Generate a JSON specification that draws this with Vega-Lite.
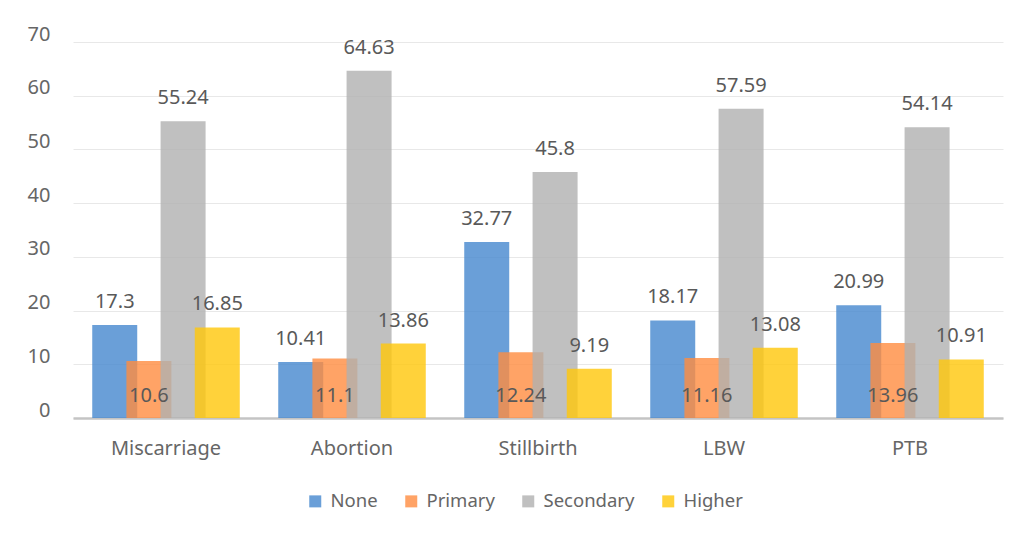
{
  "$schema": "https://vega.github.io/schema/vega-lite/v6.json",
  "autosize": "none",
  "width": 930,
  "height": 376,
  "padding": {"left": 73, "top": 42, "right": 19, "bottom": 116},
  "background": "white",
  "data": {
    "values": [
      {"outcome": "Miscarriage", "education": "None", "value": 17.3},
      {"outcome": "Miscarriage", "education": "Primary", "value": 10.6},
      {"outcome": "Miscarriage", "education": "Secondary", "value": 55.24},
      {"outcome": "Miscarriage", "education": "Higher", "value": 16.85},
      {"outcome": "Abortion", "education": "None", "value": 10.41},
      {"outcome": "Abortion", "education": "Primary", "value": 11.1},
      {"outcome": "Abortion", "education": "Secondary", "value": 64.63},
      {"outcome": "Abortion", "education": "Higher", "value": 13.86},
      {"outcome": "Stillbirth", "education": "None", "value": 32.77},
      {"outcome": "Stillbirth", "education": "Primary", "value": 12.24},
      {"outcome": "Stillbirth", "education": "Secondary", "value": 45.8},
      {"outcome": "Stillbirth", "education": "Higher", "value": 9.19},
      {"outcome": "LBW", "education": "None", "value": 18.17},
      {"outcome": "LBW", "education": "Primary", "value": 11.16},
      {"outcome": "LBW", "education": "Secondary", "value": 57.59},
      {"outcome": "LBW", "education": "Higher", "value": 13.08},
      {"outcome": "PTB", "education": "None", "value": 20.99},
      {"outcome": "PTB", "education": "Primary", "value": 13.96},
      {"outcome": "PTB", "education": "Secondary", "value": 54.14},
      {"outcome": "PTB", "education": "Higher", "value": 10.91}
    ]
  },
  "encoding": {
    "x": {
      "field": "outcome",
      "type": "nominal",
      "sort": ["Miscarriage", "Abortion", "Stillbirth", "LBW", "PTB"],
      "scale": {"paddingInner": 0.265, "paddingOuter": 0.1325},
      "axis": {
        "title": null,
        "labelAngle": 0,
        "ticks": false,
        "labelPadding": 20,
        "labelFont": "Noto Sans",
        "labelFontSize": 20,
        "labelColor": "#666666",
        "domainColor": "#c4c4c4",
        "domainWidth": 2.5,
        "grid": false
      }
    },
    "xOffset": {
      "field": "education",
      "type": "nominal",
      "sort": ["None", "Primary", "Secondary", "Higher"],
      "scale": {"paddingInner": 0, "paddingOuter": 0}
    }
  },
  "layer": [
    {
      "mark": {"type": "bar", "width": 45, "opacity": 0.8},
      "encoding": {
        "y": {
          "field": "value",
          "type": "quantitative",
          "scale": {"domain": [0, 70], "nice": false},
          "axis": {
            "title": null,
            "values": [0, 10, 20, 30, 40, 50, 60, 70],
            "domain": false,
            "ticks": false,
            "labelPadding": 23,
            "labelOffset": -8,
            "labelFont": "Noto Sans",
            "labelFontSize": 20,
            "labelColor": "#666666",
            "gridColor": "#e8e8e8",
            "gridWidth": 1
          }
        },
        "color": {
          "field": "education",
          "type": "nominal",
          "sort": ["None", "Primary", "Secondary", "Higher"],
          "scale": {
            "domain": ["None", "Primary", "Secondary", "Higher"],
            "range": ["#4587CE", "#FF8C40", "#B0B0B0", "#FFC709"]
          },
          "legend": {
            "title": null,
            "orient": "none",
            "direction": "horizontal",
            "legendX": 233,
            "legendY": 450,
            "symbolType": "square",
            "symbolSize": 144,
            "symbolOpacity": 0.8,
            "symbolStrokeWidth": 0,
            "labelFont": "Noto Sans",
            "labelFontSize": 18.5,
            "labelColor": "#666666",
            "labelOffset": 6,
            "columnPadding": 24
          }
        }
      }
    },
    {
      "transform": [{"filter": "datum.education !== 'Primary'"}],
      "mark": {"type": "text", "font": "Noto Sans", "fontSize": 20, "color": "#595959", "baseline": "alphabetic", "dy": -17},
      "encoding": {
        "y": {"field": "value", "type": "quantitative"},
        "text": {"field": "value", "type": "quantitative"}
      }
    },
    {
      "transform": [{"filter": "datum.education === 'Primary'"}],
      "mark": {"type": "text", "font": "Noto Sans", "fontSize": 20, "color": "#595959", "baseline": "alphabetic", "dy": -16},
      "encoding": {
        "y": {"datum": 0, "type": "quantitative"},
        "text": {"field": "value", "type": "quantitative"}
      }
    }
  ],
  "config": {
    "view": {"stroke": null}
  }
}
